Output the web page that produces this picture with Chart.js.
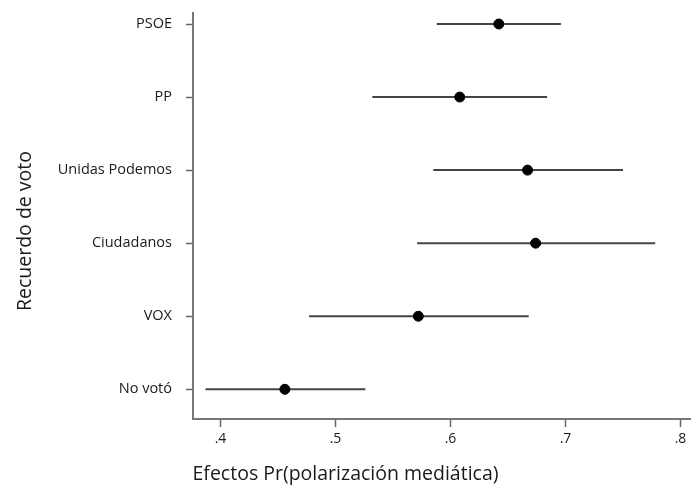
<!DOCTYPE html>
<html>
<head>
<meta charset="utf-8">
<script src="https://cdn.jsdelivr.net/npm/chart.js@4"></script>
<style>
html,body{margin:0;padding:0;background:#fff;}
#wrap{width:691px;height:486px;position:relative;}
</style>
</head>
<body>
<div id="wrap"><canvas id="c" width="691" height="486"></canvas></div>
<script>
// Data (top to bottom)
const categories = ["PSOE", "PP", "Unidas Podemos", "Ciudadanos", "VOX", "No votó"];
const estimates  = [0.642, 0.608, 0.667, 0.674, 0.572, 0.456];
const lowerCI    = [0.588, 0.532, 0.585, 0.571, 0.477, 0.387];
const upperCI    = [0.696, 0.684, 0.750, 0.778, 0.668, 0.526];
const xTicks     = [0.4, 0.5, 0.6, 0.7, 0.8];
const xTickLabels = [".4", ".5", ".6", ".7", ".8"];
const yTitle = "Recuerdo de voto";
const xTitle = "Efectos Pr(polarización mediática)";

const FONT = "'Open Sans', sans-serif";
const n = categories.length;
const yPos = i => n - 1 - i;

const ciDatasets = categories.map((c, i) => ({
  type: 'line',
  label: c + ' IC',
  data: [{x: lowerCI[i], y: yPos(i)}, {x: upperCI[i], y: yPos(i)}],
  borderColor: '#444',
  borderWidth: 2,
  pointRadius: 0,
  pointHoverRadius: 0,
  fill: false,
  order: 2
}));

const pointDataset = {
  type: 'scatter',
  label: 'Efecto',
  data: categories.map((c, i) => ({x: estimates[i], y: yPos(i)})),
  backgroundColor: '#000',
  borderColor: '#000',
  pointRadius: 5,
  pointHoverRadius: 5,
  order: 1
};

const TITLE_SIZE = 19.5;
const TITLE_BOX = TITLE_SIZE * 1.2;

// Y-axis title, drawn rotated slightly below the vertical centre (as in the original figure)
const yTitlePlugin = {
  id: 'yTitle',
  afterDraw(chart) {
    const {ctx, chartArea} = chart;
    ctx.save();
    ctx.translate(25, (chartArea.top + chartArea.bottom) / 2 + 15);
    ctx.rotate(-Math.PI / 2);
    ctx.font = `${TITLE_SIZE}px ${FONT}`;
    ctx.fillStyle = '#1a1a1a';
    ctx.textAlign = 'center';
    ctx.textBaseline = 'middle';
    ctx.fillText(yTitle, 0, 0);
    ctx.restore();
  }
};

new Chart(document.getElementById('c'), {
  type: 'scatter',
  data: { datasets: [...ciDatasets, pointDataset] },
  plugins: [yTitlePlugin],
  options: {
    responsive: false,
    animation: false,
    devicePixelRatio: 1,
    layout: { autoPadding: false, padding: { top: 13, right: 0, left: 0, bottom: 0 } },
    plugins: {
      legend: { display: false },
      tooltip: { enabled: false },
      title: {
        display: true,
        position: 'bottom',
        text: xTitle,
        color: '#1a1a1a',
        font: { family: FONT, size: TITLE_SIZE, weight: 'normal', lineHeight: 1.2 },
        padding: { top: 0, bottom: 0 }
      }
    },
    scales: {
      x: {
        type: 'linear',
        min: 0.3761,
        max: 0.8091,
        afterBuildTicks: s => { s.ticks = xTicks.map(v => ({value: v})); },
        afterFit: s => { s.height = 486 - 419 - TITLE_BOX; s.paddingLeft = 0; s.paddingRight = 0; },
        grid: { display: true, drawOnChartArea: false, drawTicks: true, tickLength: 8, tickColor: '#666', tickWidth: 1.5 },
        border: { display: true, color: '#777', width: 2 },
        ticks: {
          color: '#1a1a1a',
          font: { family: FONT, size: 14 },
          padding: 4,
          maxRotation: 0,
          autoSkip: false,
          callback: (v) => { const k = xTicks.findIndex(t => Math.abs(t - v) < 1e-9); return k >= 0 ? xTickLabels[k] : ''; }
        }
      },
      y: {
        type: 'linear',
        min: -0.4065,
        max: 5.1506,
        afterBuildTicks: s => { s.ticks = categories.map((c, i) => ({value: yPos(i)})); },
        afterFit: s => { s.width = 193; s.paddingTop = 0; s.paddingBottom = 0; },
        grid: { display: true, drawOnChartArea: false, drawTicks: true, tickLength: 7, tickColor: '#666', tickWidth: 1.5 },
        border: { display: true, color: '#777', width: 2 },
        ticks: {
          color: '#1a1a1a',
          font: { family: FONT, size: 14.5 },
          padding: 14,
          autoSkip: false,
          callback: (v) => { const i = n - 1 - Math.round(v); return categories[i] || ''; }
        }
      }
    }
  }
});
</script>
</body>
</html>
